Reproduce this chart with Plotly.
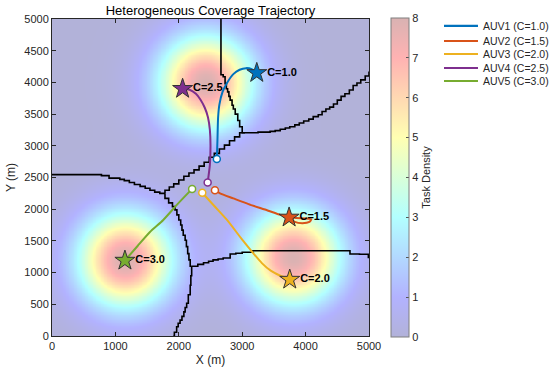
import numpy as np
import plotly.graph_objects as go

# ---------------- data ----------------
# task density field (three hotspots)
hot_x = [2420, 1150, 3800]
hot_y = [4000, 1200, 1250]
hot_peak = [8.0, 8.0, 8.0]
hot_sigma = [530, 530, 530]

# AUV trajectories
auv_names = ["AUV1 (C=1.0)", "AUV2 (C=1.5)", "AUV3 (C=2.0)", "AUV4 (C=2.5)", "AUV5 (C=3.0)"]
auv_labels = ["C=1.0", "C=1.5", "C=2.0", "C=2.5", "C=3.0"]
auv_colors = ["#0072BD", "#D95319", "#EDB120", "#7E2F8E", "#77AC30"]

auv1_x = [2600, 2610, 2620, 2640, 2690, 2760, 2860, 2960, 3060, 3150, 3230]
auv1_y = [2790, 3100, 3450, 3650, 3850, 3990, 4130, 4200, 4225, 4210, 4150]
auv2_x = [2570, 2650, 2860, 3100, 3400, 3600, 3720, 3850, 4000, 4090, 4060, 3950, 3830, 3740]
auv2_y = [2300, 2250, 2170, 2080, 1980, 1910, 1880, 1860, 1855, 1840, 1800, 1780, 1800, 1870]
auv3_x = [2370, 2560, 2760, 3000, 3180, 3310, 3450, 3600, 3750]
auv3_y = [2260, 2050, 1830, 1520, 1300, 1150, 1030, 950, 890]
auv4_x = [2455, 2490, 2500, 2490, 2460, 2410, 2340, 2270, 2170, 2060]
auv4_y = [2420, 2700, 3000, 3250, 3450, 3600, 3730, 3820, 3885, 3900]
auv5_x = [2210, 1980, 1755, 1545, 1350, 1150]
auv5_y = [2320, 2080, 1830, 1640, 1420, 1190]

auv_x = [auv1_x, auv2_x, auv3_x, auv4_x, auv5_x]
auv_y = [auv1_y, auv2_y, auv3_y, auv4_y, auv5_y]

# partition boundaries (grid-based, hence stair-stepped)
b1_x = [2665, 2665, 2700, 2730, 2750, 2770, 2790, 2810, 2840, 2860, 2890, 2930, 2960, 3000, 3044]
b1_y = [5000, 4150, 4120, 4090, 3980, 3900, 3850, 3780, 3720, 3640, 3580, 3500, 3400, 3300, 3207]
b2_x = [3044, 3250, 3440, 3520, 3600, 3680, 3750, 3830, 3900, 3970, 4050, 4120, 4200, 4260,
        4320, 4380, 4440, 4500, 4560, 4620, 4690, 4750, 4810, 4870, 4940, 5000]
b2_y = [3207, 3215, 3228, 3240, 3260, 3280, 3300, 3330, 3360, 3390, 3420, 3460, 3490, 3540,
        3580, 3610, 3660, 3720, 3780, 3820, 3880, 3950, 3990, 4040, 4100, 4170]
b3_x = [3044, 2960, 2880, 2800, 2720, 2640, 2560, 2480, 2400, 2320, 2240, 2160, 2080, 2000,
        1920, 1850, 1782]
b3_y = [3207, 3140, 3080, 3010, 2950, 2880, 2820, 2740, 2680, 2620, 2570, 2520, 2460, 2400,
        2350, 2300, 2250]
b4_x = [1782, 1700, 1620, 1545, 1470, 1390, 1300, 1220, 1140, 1070, 900, 780, 0]
b4_y = [2250, 2270, 2300, 2330, 2360, 2390, 2420, 2450, 2470, 2490, 2530, 2545, 2550]
b5_x = [1782, 1840, 1900, 1940, 1970, 2000, 2030, 2050, 2070, 2100, 2120, 2140, 2160, 2180, 2203]
b5_y = [2250, 2170, 2100, 2040, 1990, 1910, 1830, 1750, 1670, 1590, 1510, 1410, 1300, 1200, 1100]
b6_x = [2203, 2190, 2180, 2150, 2124, 2100, 2080, 2050, 2020, 1990, 1966, 1930, 1913]
b6_y = [1100, 950, 800, 650, 516, 450, 380, 310, 250, 200, 147, 60, 0]
b7_x = [2203, 2300, 2390, 2470, 2540, 2620, 2700, 2810, 2900, 3000, 3175]
b7_y = [1100, 1130, 1156, 1180, 1200, 1215, 1230, 1293, 1305, 1320, 1330]
b8_x = [3150, 3600, 4100, 4640, 4700, 4850, 4990]
b8_y = [1345, 1345, 1345, 1345, 1293, 1290, 1225]
bound_x = [b1_x, b2_x, b3_x, b4_x, b5_x, b6_x, b7_x, b8_x]
bound_y = [b1_y, b2_y, b3_y, b4_y, b5_y, b6_y, b7_y, b8_y]
bound_step = ["vh", "hv", "hv", "hv", "vh", "vh", "hv", "hv"]

x_ticks = [0, 1000, 2000, 3000, 4000, 5000]
y_ticks = [0, 500, 1000, 1500, 2000, 2500, 3000, 3500, 4000, 4500, 5000]
cbar_ticks = [0, 1, 2, 3, 4, 5, 6, 7, 8]

# ---------------- figure ----------------
FONT = "Liberation Sans, Arial, Helvetica, sans-serif"
TXT = "#262626"

gx = np.linspace(0, 5000, 201)
gy = np.linspace(0, 5000, 201)
GX, GY = np.meshgrid(gx, gy)
Z = np.zeros_like(GX)
for cx, cy, pk, sg in zip(hot_x, hot_y, hot_peak, hot_sigma):
    Z += pk * np.exp(-((GX - cx) ** 2 + (GY - cy) ** 2) / (2 * sg ** 2))


def blend(rgb, a=0.3):
    return "rgb(%d,%d,%d)" % tuple(round(255 * (1 - a) + c * 255 * a) for c in rgb)


jet = [(0.0, (0, 0, 0.5)), (0.125, (0, 0, 1)), (0.375, (0, 1, 1)),
       (0.625, (1, 1, 0)), (0.875, (1, 0, 0)), (1.0, (0.5, 0, 0))]
cscale = [[p, blend(c)] for p, c in jet]

fig = go.Figure()
fig.add_trace(go.Heatmap(
    x=gx, y=gy, z=Z, zmin=0, zmax=8, zsmooth="best", colorscale=cscale,
    showlegend=False, hoverinfo="skip",
    colorbar=dict(
        x=1.0694, xanchor="left", xpad=0, y=0.5, yanchor="middle", ypad=0,
        thickness=18, lenmode="pixels", len=319,
        outlinewidth=1, outlinecolor="#7f7f7f",
        tickvals=cbar_ticks, ticks="inside", ticklen=3, tickcolor="#555",
        tickfont=dict(family=FONT, size=11, color=TXT),
        title=dict(text="Task Density", side="right",
                   font=dict(family=FONT, size=11, color=TXT)),
    ),
))

for bx, by, st in zip(bound_x, bound_y, bound_step):
    fig.add_trace(go.Scatter(x=bx, y=by, mode="lines",
                             line=dict(color="black", width=1.6, shape=st),
                             showlegend=False, hoverinfo="skip"))

for name, lab, col, xs, ys in zip(auv_names, auv_labels, auv_colors, auv_x, auv_y):
    fig.add_trace(go.Scatter(x=xs, y=ys, mode="lines", name=name,
                             line=dict(color=col, width=2, shape="spline", smoothing=0.6),
                             showlegend=False))
    fig.add_trace(go.Scatter(x=[xs[0]], y=[ys[0]], mode="markers",
                             marker=dict(symbol="circle", size=7, color="white",
                                         line=dict(color=col, width=1.5)),
                             showlegend=False, hoverinfo="skip"))
    fig.add_trace(go.Scatter(x=[xs[-1]], y=[ys[-1]], mode="markers+text",
                             marker=dict(symbol="star", size=15, color=col,
                                         line=dict(color="#333", width=1)),
                             text=["<b>%s</b>" % lab], textposition="middle right",
                             textfont=dict(family=FONT, size=11, color="black"),
                             showlegend=False, hoverinfo="skip"))

# manual legend (compact, like the reference)
leg_y = [0.978, 0.9306, 0.8896, 0.8454, 0.8044]
shapes = []
annotations = []
for name, col, ly in zip(auv_names, auv_colors, leg_y):
    shapes.append(dict(type="line", xref="paper", yref="paper",
                       x0=1.2366, x1=1.3438, y0=ly, y1=ly,
                       line=dict(color=col, width=2.2)))
    annotations.append(dict(xref="paper", yref="paper", x=1.3533, y=ly,
                            xanchor="left", yanchor="middle", text=name,
                            showarrow=False,
                            font=dict(family=FONT, size=10.5, color=TXT)))

axis_common = dict(range=[0, 5000], showgrid=False, zeroline=False, automargin=False,
                   showline=True, linecolor=TXT, linewidth=1, mirror="ticks",
                   ticks="inside", ticklen=4, tickcolor=TXT,
                   tickfont=dict(family=FONT, size=11, color=TXT))

fig.update_layout(
    width=550, height=376,
    margin=dict(l=52, r=181, t=19, b=40, autoexpand=False),
    paper_bgcolor="white", plot_bgcolor="white",
    title=dict(text="Heterogeneous Coverage Trajectory", x=0.3827, xanchor="center",
               y=0.973, yanchor="middle", automargin=False,
               font=dict(family=FONT, size=13, color="black")),
    xaxis=dict(axis_common, tickvals=x_ticks,
               title=dict(text="X (m)", standoff=4, font=dict(family=FONT, size=12, color=TXT))),
    yaxis=dict(axis_common, tickvals=y_ticks,
               title=dict(text="Y (m)", standoff=6, font=dict(family=FONT, size=12, color=TXT))),
    shapes=shapes, annotations=annotations,
    showlegend=False,
)

fig.write_html("out.html", config={"displayModeBar": False},
               post_script="document.body.style.margin='0';document.body.style.padding='0';")
